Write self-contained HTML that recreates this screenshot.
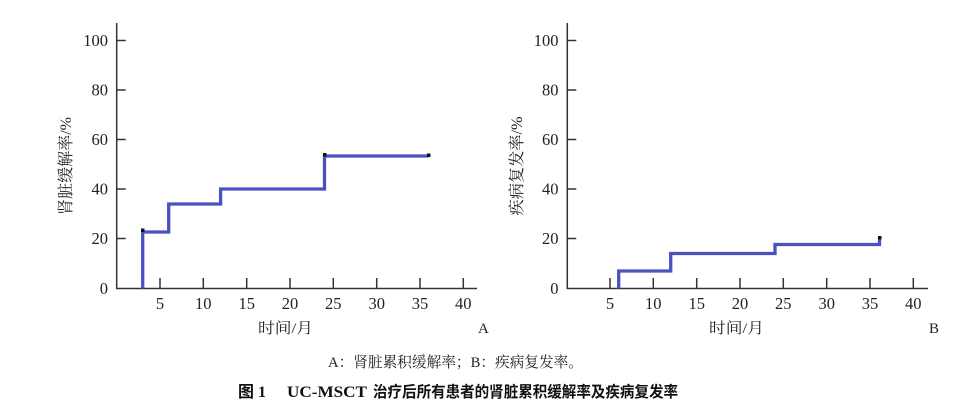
<!DOCTYPE html>
<html><head><meta charset="utf-8"><style>
html,body{margin:0;padding:0;background:#fff;}
svg{display:block;}
.n{font-family:"Liberation Serif","Noto Serif CJK SC",serif;font-size:16.5px;fill:#222;}
.c{font-family:"Liberation Serif","Noto Serif CJK SC",serif;font-size:15px;fill:#222;}
</style></head><body>
<svg width="974" height="410" viewBox="0 0 974 410" xmlns="http://www.w3.org/2000/svg">
<rect width="974" height="410" fill="#fff"/>
<!-- Panel A -->
<g stroke="#333" stroke-width="1.5" fill="none">
<path d="M116.7,23 V288.5 H477"/>
<path d="M116.7,40.5 h9 M116.7,90 h9 M116.7,139.5 h9 M116.7,189 h9 M116.7,238.5 h9"/>
<path d="M160,278 V288 M203.3,278 V288 M246.7,278 V288 M290,278 V288 M333.3,278 V288 M376.7,278 V288 M420,278 V288 M463.3,278 V288"/>
</g>
<path d="M142.7,288.5 V232 H168.7 V204 H220.6 V189 H324.5 V156 H428.5" stroke="#4a52c0" stroke-width="3.3" fill="none"/>
<rect x="141" y="228.5" width="3.5" height="3.5" fill="#111"/>
<rect x="323" y="153" width="3.5" height="3.5" fill="#111"/>
<rect x="427" y="153.5" width="3.5" height="3.5" fill="#111"/>
<g class="n" text-anchor="end">
<text x="108" y="46">100</text><text x="108" y="95.5">80</text><text x="108" y="145">60</text><text x="108" y="194.5">40</text><text x="108" y="244">20</text><text x="108" y="294">0</text>
</g>
<g class="n" text-anchor="middle">
<text x="160" y="309">5</text><text x="203.3" y="309">10</text><text x="246.7" y="309">15</text><text x="290" y="309">20</text><text x="333.3" y="309">25</text><text x="376.7" y="309">30</text><text x="420" y="309">35</text><text x="463.3" y="309">40</text>
</g>
<text class="c" x="258" y="333" textLength="55" lengthAdjust="spacingAndGlyphs">时间/月</text>
<text class="c" x="478" y="333">A</text>
<text class="c" style="font-size:16px" transform="translate(71,166) rotate(-90)" text-anchor="middle" textLength="98" lengthAdjust="spacingAndGlyphs">肾脏缓解率/%</text>

<!-- Panel B -->
<g stroke="#333" stroke-width="1.5" fill="none">
<path d="M567.3,23 V288.5 H928"/>
<path d="M567.3,40.5 h9 M567.3,90 h9 M567.3,139.5 h9 M567.3,189 h9 M567.3,238.5 h9"/>
<path d="M610,278 V288 M653.3,278 V288 M696.7,278 V288 M740,278 V288 M783.3,278 V288 M826.7,278 V288 M870,278 V288 M913.3,278 V288"/>
</g>
<path d="M618.7,288.5 V271 H670.7 V253.5 H775 V244.5 H879.5 V238" stroke="#4a52c0" stroke-width="3.3" fill="none"/>
<rect x="878" y="236" width="3.5" height="3.5" fill="#111"/>
<g class="n" text-anchor="end">
<text x="558.5" y="46">100</text><text x="558.5" y="95.5">80</text><text x="558.5" y="145">60</text><text x="558.5" y="194.5">40</text><text x="558.5" y="244">20</text><text x="558.5" y="294">0</text>
</g>
<g class="n" text-anchor="middle">
<text x="610" y="309">5</text><text x="653.3" y="309">10</text><text x="696.7" y="309">15</text><text x="740" y="309">20</text><text x="783.3" y="309">25</text><text x="826.7" y="309">30</text><text x="870" y="309">35</text><text x="913.3" y="309">40</text>
</g>
<text class="c" x="709" y="333" textLength="55" lengthAdjust="spacingAndGlyphs">时间/月</text>
<text class="c" x="929" y="333">B</text>
<text class="c" style="font-size:16px" transform="translate(522,166) rotate(-90)" text-anchor="middle" textLength="99" lengthAdjust="spacingAndGlyphs">疾病复发率/%</text>

<!-- Captions -->
<text class="c" x="328" y="367" textLength="255" lengthAdjust="spacingAndGlyphs">A：肾脏累积缓解率；B：疾病复发率。</text>
<text x="238" y="397" style="font-family:'Liberation Serif','Noto Sans CJK SC',sans-serif;font-size:16px;font-weight:bold;fill:#111">图 1</text>
<text x="287" y="397" style="font-family:'Liberation Serif',serif;font-size:16px;font-weight:bold;fill:#111" textLength="80" lengthAdjust="spacingAndGlyphs">UC-MSCT</text>
<text x="373" y="397" style="font-family:'Noto Sans CJK SC',sans-serif;font-size:15.5px;font-weight:bold;fill:#111" textLength="305" lengthAdjust="spacingAndGlyphs">治疗后所有患者的肾脏累积缓解率及疾病复发率</text>
</svg>
</body></html>
